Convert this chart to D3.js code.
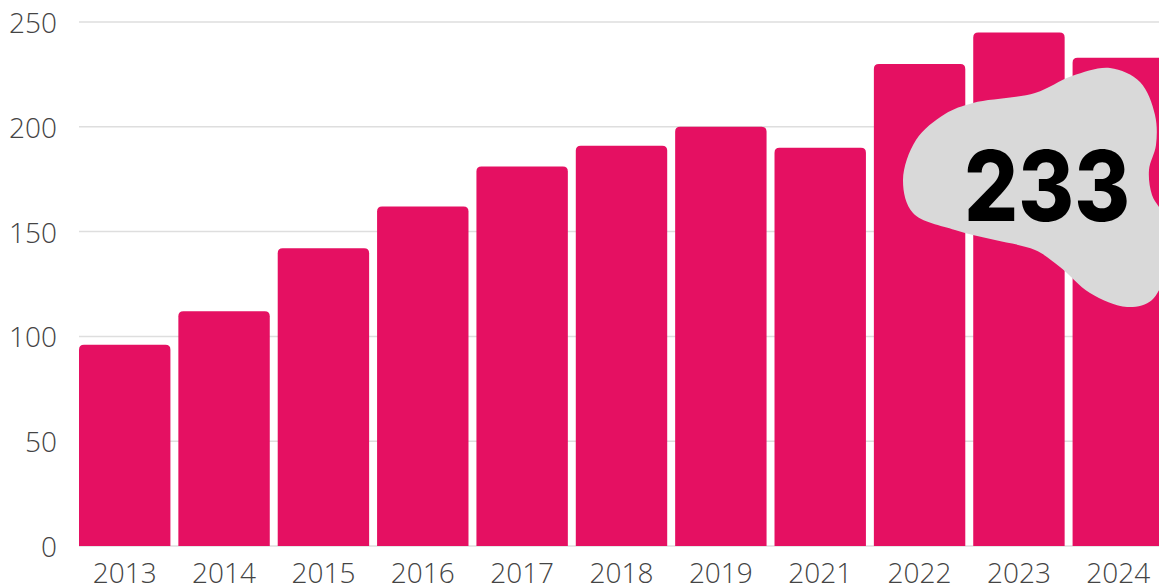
<!DOCTYPE html>
<html>
<head>
<meta charset="utf-8">
<script src="https://cdn.jsdelivr.net/npm/d3@7"></script>
<style>
  html, body { margin: 0; padding: 0; background: #fff; overflow: hidden; }
  svg { display: block; }
</style>
</head>
<body>
<svg id="chart" width="1159" height="585"></svg>
<script>
const years = ["2013","2014","2015","2016","2017","2018","2019","2021","2022","2023","2024"];
const values = [96, 112, 142, 162, 181, 191, 200, 190, 230, 245, 233];
const yTicks = [0, 50, 100, 150, 200, 250];
const highlightLabel = "233";

const svg = d3.select("#chart");
const x = d3.scaleBand().domain(years).range([79, 1164]).paddingInner(0.08).paddingOuter(0);
const y = d3.scaleLinear().domain([0, 250]).range([546, 22]);

// gridlines
svg.append("g").selectAll("line").data(yTicks).join("line")
  .attr("x1", 79).attr("x2", 1159)
  .attr("y1", d => y(d)).attr("y2", d => y(d))
  .attr("stroke", "#dedede").attr("stroke-width", 1.5);

// y labels
svg.append("g").selectAll("text").data(yTicks).join("text")
  .attr("x", 57).attr("y", d => y(d))
  .attr("text-anchor", "end").attr("dominant-baseline", "central")
  .attr("font-family", "'Open Sans', sans-serif").attr("font-weight", 300)
  .attr("font-size", 28).attr("fill", "#444")
  .text(d => d);

// bars with rounded top corners
const r = 5;
function barPath(d, i) {
  const x0 = x(years[i]), w = x.bandwidth(), y0 = y(d), yb = y(0);
  return `M${x0},${yb}V${y0 + r}Q${x0},${y0} ${x0 + r},${y0}H${x0 + w - r}Q${x0 + w},${y0} ${x0 + w},${y0 + r}V${yb}Z`;
}
svg.append("g").selectAll("path").data(values).join("path")
  .attr("d", barPath)
  .attr("fill", "#e51062");

// x labels
svg.append("g").selectAll("text").data(years).join("text")
  .attr("x", d => x(d) + x.bandwidth() / 2).attr("y", 583)
  .attr("text-anchor", "middle")
  .attr("font-family", "'Open Sans', sans-serif").attr("font-weight", 300)
  .attr("font-size", 28).attr("fill", "#444")
  .text(d => d);

// blob
const blobPts = [
  [973,103],[1035,93],[1072,76],[1110,68],[1140,82],[1155,115],[1156,145],[1149,170],[1152,195],[1163,215],
  [1168,260],[1152,300],[1127,307],[1090,293],[1060,267],[1035,250],[995,240],[955,230],[913,213],[903,180],[916,140],[945,114]
];
svg.append("path")
  .attr("d", d3.line().curve(d3.curveCatmullRomClosed.alpha(0.5))(blobPts))
  .attr("fill", "#d9d9d9");

svg.append("text")
  .attr("x", 964).attr("y", 221)
  .attr("text-anchor", "start")
  .attr("font-family", "Inter, sans-serif").attr("font-weight", 800)
  .attr("font-size", 97).attr("fill", "#000")
  .attr("textLength", 166).attr("lengthAdjust", "spacingAndGlyphs")
  .text(highlightLabel);
</script>
</body>
</html>
